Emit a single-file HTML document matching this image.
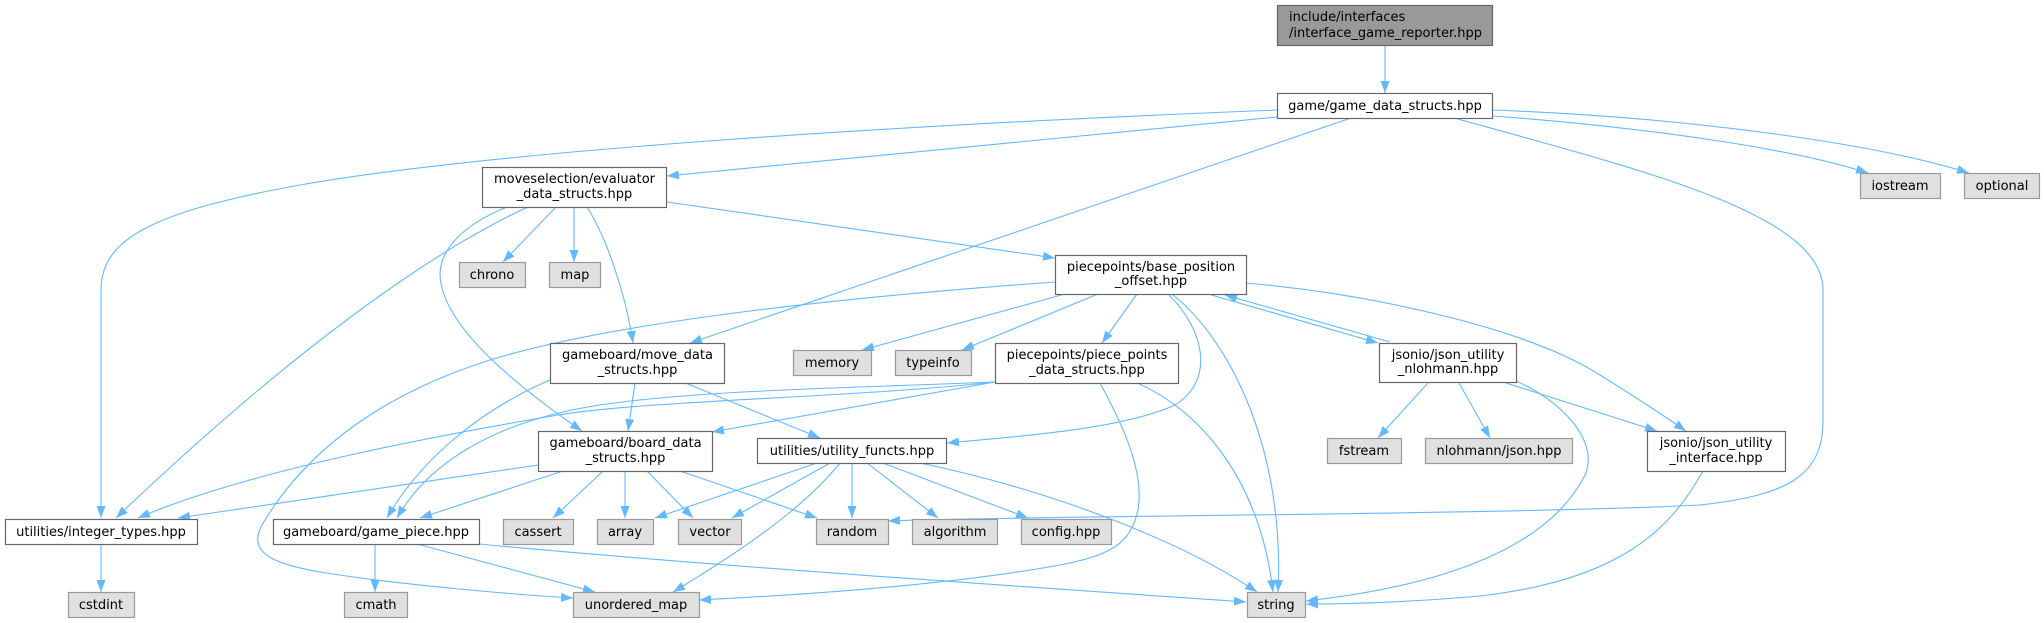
<!DOCTYPE html>
<html>
<head>
<meta charset="utf-8">
<style>
html,body{margin:0;padding:0;background:#fff;}
svg{display:block;}
text{font-family:"DejaVu Sans","Liberation Sans",sans-serif;font-size:13px;fill:#000;}
.e{fill:none;stroke:#63b8ff;stroke-width:1.1;marker-end:url(#a);}
.w{fill:#fff;stroke:#666;stroke-width:1.2;}
.g{fill:#e0e0e0;stroke:#999;stroke-width:1.2;}
.t{fill:#999;stroke:#666;stroke-width:1.2;}
</style>
</head>
<body>
<svg width="2044" height="623" viewBox="0 0 2044 623" xmlns="http://www.w3.org/2000/svg">
<defs>
<marker id="a" markerUnits="userSpaceOnUse" markerWidth="12" markerHeight="9" viewBox="0 0 12 9" refX="12" refY="4.5" orient="auto">
<path d="M0,0 L12,4.5 L0,9 z" fill="#63b8ff"/>
</marker>
</defs>

<!-- edges -->
<path class="e" d="M1385,45 L1385,93"/>
<path class="e" d="M1277,117 L667,176"/>
<path class="e" d="M1277,110 C900,125 500,150 300,185 C150,212 101,240 101,290 L101,518"/>
<path class="e" d="M1351,118 L690,343"/>
<path class="e" d="M1493,116 C1650,128 1790,148 1868,173"/>
<path class="e" d="M1493,110 C1700,118 1880,145 1969,173"/>
<path class="e" d="M1454,118 C1650,172 1823,215 1823,290 L1823,420 C1823,475 1790,495 1700,505 C1500,515 1000,516 888,521"/>

<path class="e" d="M556,207 L503,262"/>
<path class="e" d="M574,207 L574,262"/>
<path class="e" d="M528,207 C430,252 290,352 116,518"/>
<path class="e" d="M507,207 C470,222 440,245 440,275 C442,330 530,395 582,431"/>
<path class="e" d="M587,207 C605,235 625,290 633,343"/>
<path class="e" d="M667,202 L1055,258"/>

<path class="e" d="M1055,282 C860,296 620,320 490,360 C370,398 300,460 262,525 C245,555 280,565 320,572 C400,585 520,595 573,598"/>
<path class="e" d="M1065,294 L862,350"/>
<path class="e" d="M1098,294 L962,350"/>
<path class="e" d="M1137,294 L1102,343"/>
<path class="e" d="M1168,294 C1205,330 1215,380 1175,405 C1120,430 1010,437 947,443"/>
<path class="e" d="M1173,295 C1230,340 1285,450 1278,592"/>
<path class="e" d="M1208,294 L1378,343"/>
<path class="e" d="M1390,342 L1225,295"/>
<path class="e" d="M1246,283 C1380,295 1530,330 1600,375 C1640,400 1670,420 1686,431"/>

<path class="e" d="M995,382 C850,398 650,400 558,415 C440,435 250,470 138,518"/>
<path class="e" d="M995,382 C850,388 700,390 600,405 C500,420 430,460 397,518"/>
<path class="e" d="M995,382 L712,432"/>
<path class="e" d="M1100,383 C1120,420 1145,470 1138,510 C1130,545 1110,555 1060,565 C950,585 800,595 699,600"/>
<path class="e" d="M1137,383 C1200,410 1260,480 1273,592"/>

<path class="e" d="M635,383 L628,431"/>
<path class="e" d="M550,380 C480,410 420,460 387,518"/>
<path class="e" d="M683,382 L820,438"/>

<path class="e" d="M538,465 L178,518"/>
<path class="e" d="M563,471 L420,518"/>
<path class="e" d="M603,471 L553,518"/>
<path class="e" d="M625,471 L625,518"/>
<path class="e" d="M647,471 L693,518"/>
<path class="e" d="M680,471 L817,518"/>

<path class="e" d="M817,463 L655,518"/>
<path class="e" d="M830,463 L732,518"/>
<path class="e" d="M840,463 C810,500 760,540 673,592"/>
<path class="e" d="M852,463 L852,518"/>
<path class="e" d="M867,463 L938,518"/>
<path class="e" d="M883,463 L1028,518"/>
<path class="e" d="M920,463 C1050,490 1180,540 1257,592"/>

<path class="e" d="M375,544 L375,592"/>
<path class="e" d="M417,544 L595,592"/>
<path class="e" d="M479,544 C700,565 1000,585 1246,602"/>

<path class="e" d="M101,544 L101,592"/>

<path class="e" d="M1428,383 L1378,438"/>
<path class="e" d="M1459,383 L1490,438"/>
<path class="e" d="M1506,383 L1657,431"/>
<path class="e" d="M1516,381 C1560,400 1600,440 1585,475 C1550,545 1450,585 1306,601"/>
<path class="e" d="M1703,471 C1670,530 1620,580 1480,596 C1400,603 1340,604 1306,604"/>

<!-- nodes -->
<rect class="t" x="1277.5" y="5.5" width="215" height="40"/>
<text x="1289" y="21">include/interfaces</text>
<text x="1289" y="37">/interface_game_reporter.hpp</text>

<rect class="w" x="1277.5" y="93.5" width="215" height="25"/>
<text x="1385" y="110" text-anchor="middle">game/game_data_structs.hpp</text>

<rect class="w" x="482.5" y="167.5" width="184" height="40"/>
<text x="574.5" y="183" text-anchor="middle">moveselection/evaluator</text>
<text x="574.5" y="198" text-anchor="middle">_data_structs.hpp</text>

<rect class="g" x="1860.5" y="173.5" width="80" height="25"/>
<text x="1900" y="190" text-anchor="middle">iostream</text>

<rect class="g" x="1964.5" y="173.5" width="75" height="25"/>
<text x="2002" y="190" text-anchor="middle">optional</text>

<rect class="g" x="459.5" y="262.5" width="66" height="25"/>
<text x="492" y="279" text-anchor="middle">chrono</text>

<rect class="g" x="549.5" y="262.5" width="51" height="25"/>
<text x="575" y="279" text-anchor="middle">map</text>

<rect class="w" x="1055.5" y="255.5" width="191" height="39"/>
<text x="1151" y="271" text-anchor="middle">piecepoints/base_position</text>
<text x="1151" y="285" text-anchor="middle">_offset.hpp</text>

<rect class="w" x="550.5" y="343.5" width="174" height="40"/>
<text x="637.5" y="359" text-anchor="middle">gameboard/move_data</text>
<text x="637.5" y="374" text-anchor="middle">_structs.hpp</text>

<rect class="g" x="793.5" y="350.5" width="78" height="25"/>
<text x="832" y="367" text-anchor="middle">memory</text>

<rect class="g" x="895.5" y="350.5" width="76" height="25"/>
<text x="933" y="367" text-anchor="middle">typeinfo</text>

<rect class="w" x="995.5" y="343.5" width="183" height="40"/>
<text x="1087" y="359" text-anchor="middle">piecepoints/piece_points</text>
<text x="1087" y="374" text-anchor="middle">_data_structs.hpp</text>

<rect class="w" x="1379.5" y="343.5" width="137" height="39"/>
<text x="1448" y="359" text-anchor="middle">jsonio/json_utility</text>
<text x="1448" y="373" text-anchor="middle">_nlohmann.hpp</text>

<rect class="w" x="538.5" y="431.5" width="174" height="40"/>
<text x="625.5" y="447" text-anchor="middle">gameboard/board_data</text>
<text x="625.5" y="462" text-anchor="middle">_structs.hpp</text>

<rect class="w" x="757.5" y="438.5" width="189" height="25"/>
<text x="852" y="455" text-anchor="middle">utilities/utility_functs.hpp</text>

<rect class="g" x="1327.5" y="438.5" width="74" height="25"/>
<text x="1364" y="455" text-anchor="middle">fstream</text>

<rect class="g" x="1425.5" y="438.5" width="147" height="25"/>
<text x="1499" y="455" text-anchor="middle">nlohmann/json.hpp</text>

<rect class="w" x="1647.5" y="431.5" width="138" height="40"/>
<text x="1716" y="447" text-anchor="middle">jsonio/json_utility</text>
<text x="1716" y="462" text-anchor="middle">_interface.hpp</text>

<rect class="w" x="5.5" y="519.5" width="192" height="25"/>
<text x="101" y="536" text-anchor="middle">utilities/integer_types.hpp</text>

<rect class="w" x="273.5" y="519.5" width="206" height="25"/>
<text x="376" y="536" text-anchor="middle">gameboard/game_piece.hpp</text>

<rect class="g" x="503.5" y="519.5" width="70" height="25"/>
<text x="538" y="536" text-anchor="middle">cassert</text>

<rect class="g" x="597.5" y="519.5" width="56" height="25"/>
<text x="625" y="536" text-anchor="middle">array</text>

<rect class="g" x="678.5" y="519.5" width="63" height="25"/>
<text x="710" y="536" text-anchor="middle">vector</text>

<rect class="g" x="816.5" y="519.5" width="72" height="25"/>
<text x="852" y="536" text-anchor="middle">random</text>

<rect class="g" x="912.5" y="519.5" width="85" height="25"/>
<text x="955" y="536" text-anchor="middle">algorithm</text>

<rect class="g" x="1021.5" y="519.5" width="90" height="25"/>
<text x="1066" y="536" text-anchor="middle">config.hpp</text>

<rect class="g" x="68.5" y="592.5" width="66" height="25"/>
<text x="101" y="609" text-anchor="middle">cstdint</text>

<rect class="g" x="344.5" y="592.5" width="63" height="25"/>
<text x="376" y="609" text-anchor="middle">cmath</text>

<rect class="g" x="573.5" y="592.5" width="126" height="25"/>
<text x="636" y="609" text-anchor="middle">unordered_map</text>

<rect class="g" x="1247.5" y="592.5" width="58" height="25"/>
<text x="1276" y="609" text-anchor="middle">string</text>
</svg>
</body>
</html>
